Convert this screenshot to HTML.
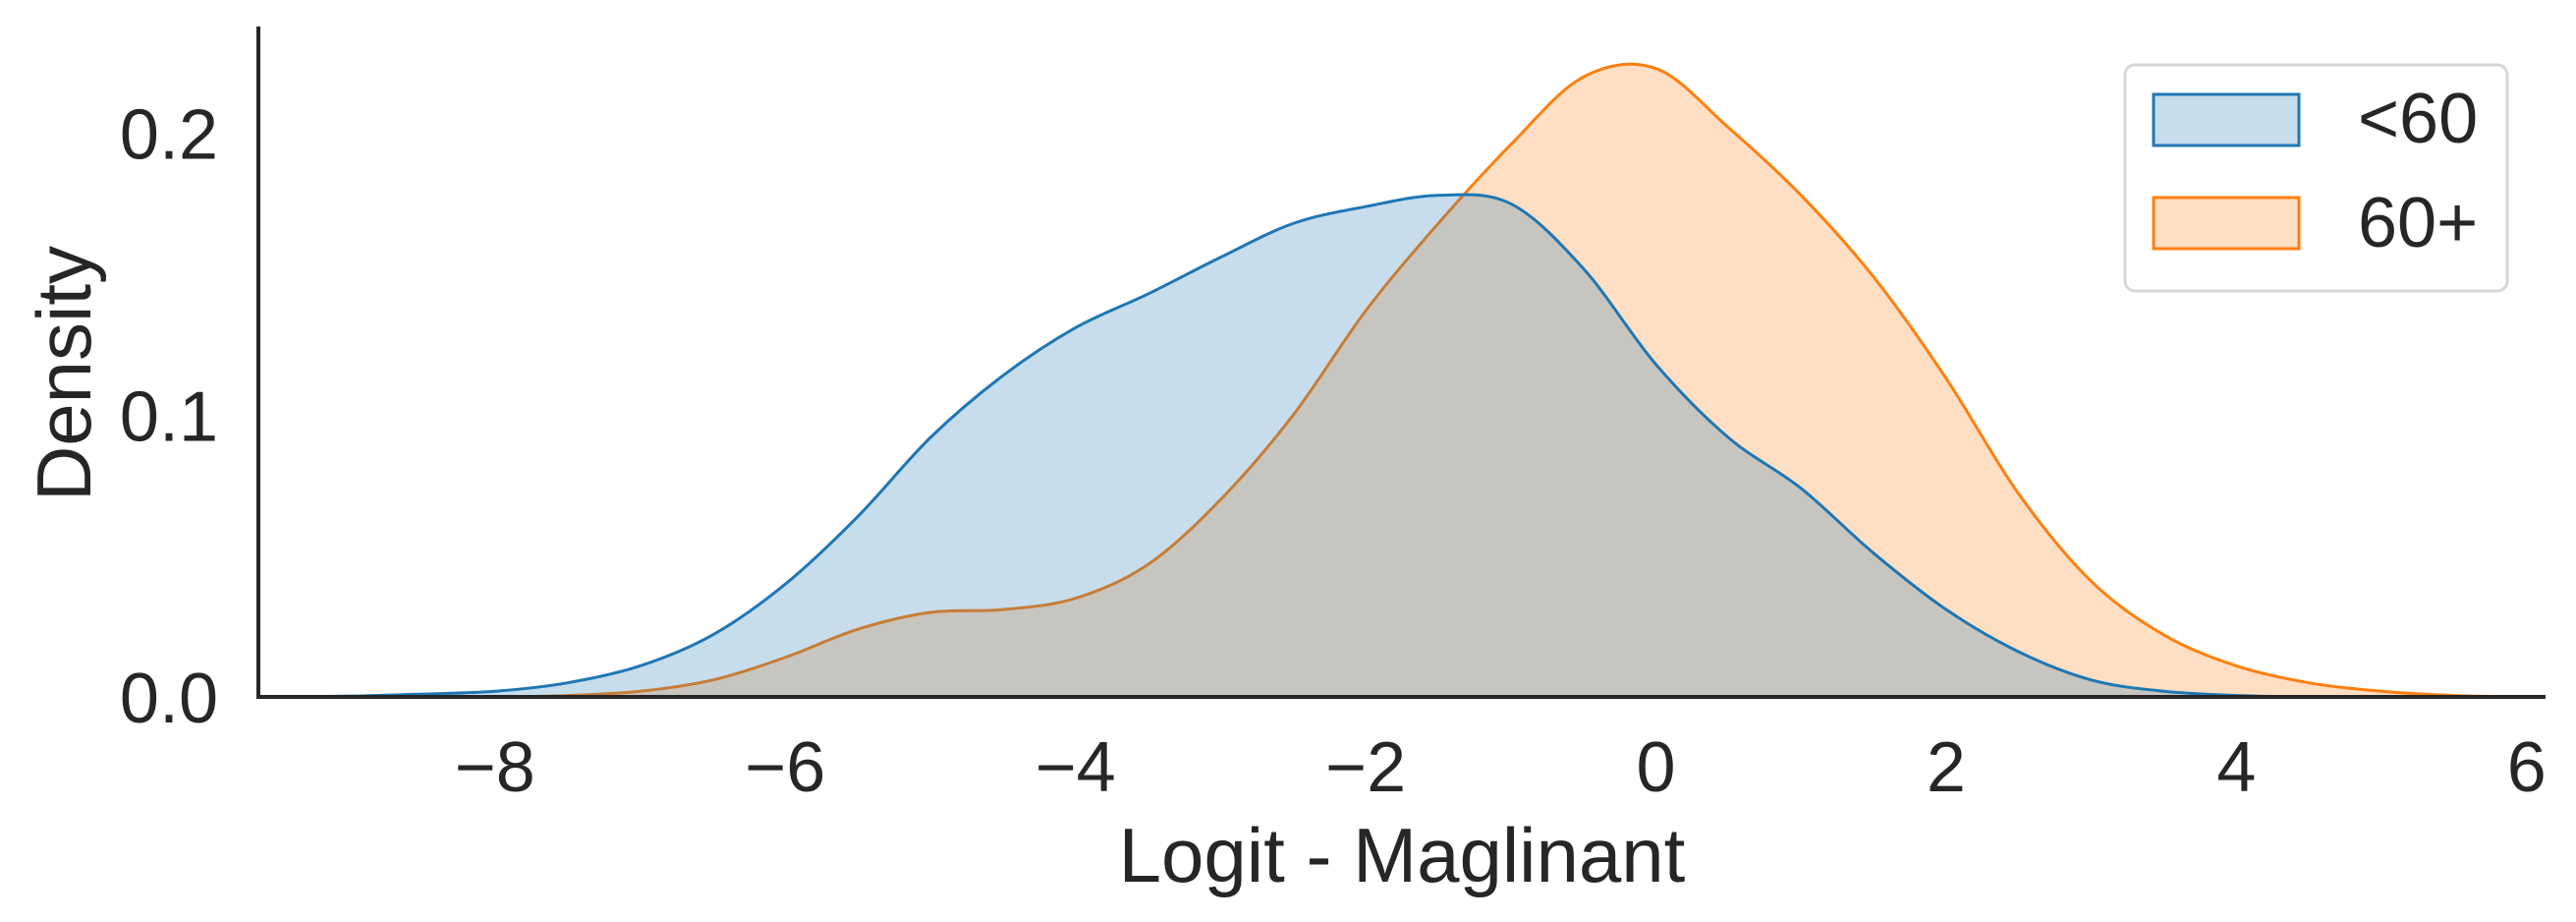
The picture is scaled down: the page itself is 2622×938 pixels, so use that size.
<!DOCTYPE html>
<html><head><meta charset="utf-8"><style>
html,body{margin:0;padding:0;background:#fff;}
svg{display:block;font-family:"Liberation Sans",Arial,sans-serif;}
</style></head><body>
<svg id="chart" width="2622" height="938" viewBox="0 0 2622 938">
<g id="plot"></g>
<g id="axes"></g>
<g>
<rect x="2163" y="66" width="389" height="230" rx="10" fill="#fff" stroke="#d6d6d6" stroke-width="3"/>
<g>
<rect x="2192" y="96" width="148" height="52" fill="rgba(31,119,180,0.25)" stroke="#1f77b4" stroke-width="3"/>
<text x="2400" y="145" font-size="72" fill="#262626">&lt;60</text>
</g>
<g>
<rect x="2192" y="201" width="148" height="52" fill="rgba(255,127,14,0.25)" stroke="#ff7f0e" stroke-width="3"/>
<text x="2400" y="251" font-size="72" fill="#262626">60+</text>
</g>
</g>
</svg>
<script>
const xsBlue = [-9.6,-9,-8.5,-8,-7.5,-7,-6.5,-6,-5.5,-5,-4.5,-4,-3.5,-3,-2.5,-2,-1.5,-1,-0.5,0,0.5,1,1.5,2,2.5,3,3.5,4,4.5,5,5.5,6.1];
const ysBlue = [0,0.0003,0.001,0.002,0.005,0.011,0.022,0.04,0.064,0.092,0.114,0.131,0.143,0.156,0.168,0.174,0.178,0.175,0.152,0.118,0.092,0.074,0.051,0.031,0.016,0.006,0.002,0.0005,0,0,0,0];
const xsOrange = [-9.6,-8.5,-8,-7.5,-7,-6.5,-6,-5.5,-5,-4.5,-4,-3.5,-3,-2.5,-2,-1.5,-1,-0.5,0,0.5,1,1.5,2,2.5,3,3.5,4,4.5,5,5.5,6.1];
const ysOrange = [0,0,0,0.0005,0.002,0.006,0.014,0.024,0.03,0.031,0.035,0.047,0.07,0.10,0.137,0.168,0.196,0.220,0.223,0.202,0.178,0.149,0.113,0.072,0.041,0.022,0.011,0.005,0.002,0.0005,0];
const xTicks = [-8,-6,-4,-2,0,2,4,6];
const yTicks = [0.0,0.1,0.2];
const yTickLabels = ["0.0","0.1","0.2"];

const X0=263, X1=2591, Y0=709, YT=27;
const xMin=-9.63, xMax=6.13, yMax=0.2379;
const sx = v => X0 + (v - xMin) / (xMax - xMin) * (X1 - X0);
const sy = v => Y0 - v / yMax * (Y0 - YT);
const NS="http://www.w3.org/2000/svg";
function mk(tag, attrs){const e=document.createElementNS(NS,tag);for(const k in attrs)e.setAttribute(k,attrs[k]);return e;}

function smoothPath(xs, ys){
  const p = xs.map((x,i)=>[sx(x), sy(ys[i])]);
  let d = `M${p[0][0]},${p[0][1]}`;
  for(let i=0;i<p.length-1;i++){
    const p0=p[Math.max(i-1,0)], p1=p[i], p2=p[i+1], p3=p[Math.min(i+2,p.length-1)];
    let c1y=p1[1]+(p2[1]-p0[1])/6, c2y=p2[1]-(p3[1]-p1[1])/6;
    c1y=Math.min(c1y,Y0); c2y=Math.min(c2y,Y0);
    d += ` C${p1[0]+(p2[0]-p0[0])/6},${c1y} ${p2[0]-(p3[0]-p1[0])/6},${c2y} ${p2[0]},${p2[1]}`;
  }
  return d;
}
const plot=document.getElementById('plot');
const series=[[xsOrange,ysOrange,'255,127,14','#ff7f0e','60-plus'],[xsBlue,ysBlue,'31,119,180','#1f77b4','under-60']];
series.forEach(s=>{
  const d=smoothPath(s[0],s[1]);
  const area=mk('path',{d:d+` L${sx(s[0][s[0].length-1])},${Y0} L${sx(s[0][0])},${Y0} Z`,fill:`rgba(${s[2]},0.25)`,stroke:'none'});
  
  
  plot.appendChild(area);
  const line=mk('path',{d:d,fill:'none',stroke:s[3],'stroke-width':3});
  
  
  plot.appendChild(line);
});
const axes=document.getElementById('axes');
const yAxis=mk('line',{x1:X0,y1:YT,x2:X0,y2:Y0+2,stroke:'#262626','stroke-width':4});


axes.appendChild(yAxis);
const xAxis=mk('line',{x1:X0-2,y1:Y0,x2:X1,y2:Y0,stroke:'#262626','stroke-width':4});


axes.appendChild(xAxis);
xTicks.forEach(t=>{
  const tx=mk('text',{x:sx(t),y:805,'font-size':72,fill:'#262626','text-anchor':'middle'});
  tx.textContent = t<0 ? '\u2212'+Math.abs(t) : String(t);
  
  
  axes.appendChild(tx);
});
yTicks.forEach((t,i)=>{
  const ty=mk('text',{x:222,y:sy(t)+26,'font-size':72,fill:'#262626','text-anchor':'end'});
  ty.textContent=yTickLabels[i];
  
  
  axes.appendChild(ty);
});
const xl=mk('text',{x:1427,y:897,'font-size':78,fill:'#262626','text-anchor':'middle'});
xl.textContent='Logit - Maglinant';


axes.appendChild(xl);
const yl=mk('text',{x:0,y:0,'font-size':78,fill:'#262626','text-anchor':'middle',transform:'translate(92,380) rotate(-90)'});
yl.textContent='Density';


axes.appendChild(yl);
</script>
</body></html>
